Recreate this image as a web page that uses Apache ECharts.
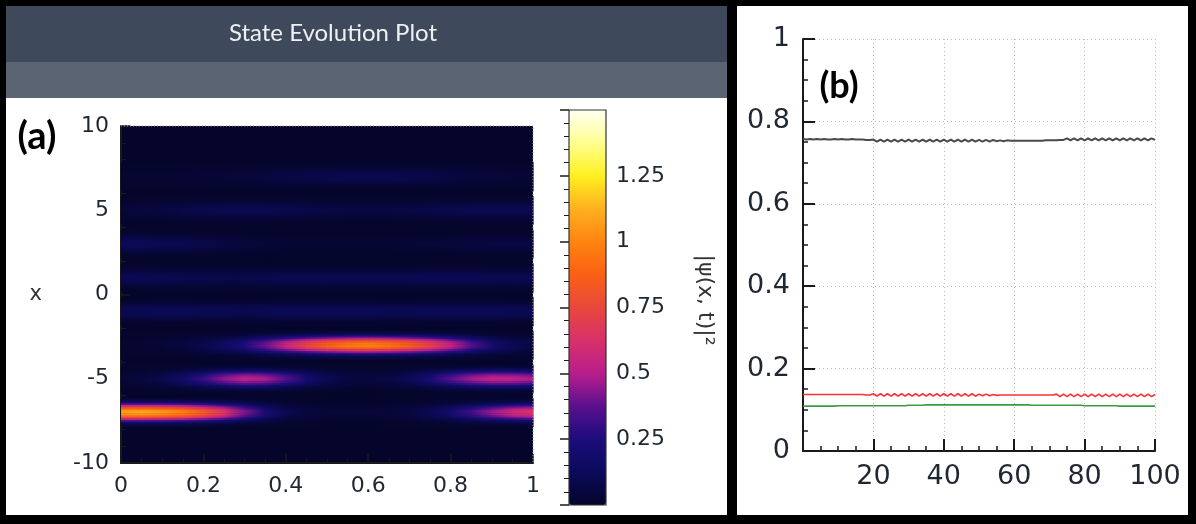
<!DOCTYPE html>
<html>
<head>
<meta charset="utf-8">
<title>State Evolution Plot</title>
<script src="https://cdn.jsdelivr.net/npm/echarts@6/dist/echarts.min.js"></script>
<style>
  html, body { margin: 0; padding: 0; background: #000; }
  #chart { width: 1196px; height: 524px; }
</style>
</head>
<body>
<div id="chart"></div>
<script>
// (a) heatmap: |psi(x,t)|^2 read at each lattice site, t step 0.05
const tGrid = [0, 0.05, 0.1, 0.15, 0.2, 0.25, 0.3, 0.35, 0.4, 0.45, 0.5, 0.55, 0.6, 0.65, 0.7, 0.75, 0.8, 0.85, 0.9, 0.95, 1];
const sites = [7, 5, 3, 1, -1, -3, -5, -7];
const probX7  = [0.02, 0.02, 0.02, 0.02, 0.03, 0.03, 0.04, 0.06, 0.07, 0.08, 0.09, 0.10, 0.10, 0.10, 0.09, 0.08, 0.06, 0.05, 0.04, 0.03, 0.03];
const probX5  = [0.03, 0.05, 0.06, 0.08, 0.09, 0.10, 0.10, 0.10, 0.09, 0.08, 0.07, 0.06, 0.06, 0.06, 0.07, 0.08, 0.09, 0.10, 0.10, 0.10, 0.10];
const probX3  = [0.12, 0.12, 0.11, 0.10, 0.08, 0.06, 0.04, 0.03, 0.02, 0.02, 0.02, 0.02, 0.02, 0.02, 0.03, 0.03, 0.04, 0.05, 0.06, 0.06, 0.06];
const probX1  = [0.10, 0.11, 0.10, 0.09, 0.09, 0.08, 0.08, 0.09, 0.10, 0.10, 0.10, 0.10, 0.10, 0.10, 0.10, 0.11, 0.11, 0.11, 0.10, 0.10, 0.10];
const probXm1 = [0.11, 0.11, 0.12, 0.12, 0.11, 0.11, 0.10, 0.11, 0.12, 0.12, 0.12, 0.12, 0.12, 0.11, 0.11, 0.12, 0.12, 0.12, 0.12, 0.11, 0.11];
const probXm3 = [0.02, 0.02, 0.03, 0.05, 0.09, 0.15, 0.25, 0.40, 0.57, 0.74, 0.88, 0.97, 1.00, 0.95, 0.86, 0.72, 0.55, 0.36, 0.20, 0.11, 0.07];
const probXm5 = [0.03, 0.05, 0.09, 0.17, 0.30, 0.44, 0.52, 0.48, 0.35, 0.20, 0.10, 0.06, 0.05, 0.07, 0.12, 0.22, 0.36, 0.47, 0.53, 0.52, 0.48];
const probXm7 = [1.08, 1.10, 1.06, 0.98, 0.84, 0.65, 0.42, 0.22, 0.10, 0.05, 0.03, 0.03, 0.03, 0.04, 0.06, 0.11, 0.19, 0.32, 0.46, 0.58, 0.65];
const siteRows = [probX7, probX5, probX3, probX1, probXm1, probXm3, probXm5, probXm7];

// (b) populations vs time
const timeSteps = [0, 1, 2, 3, 4, 5, 6, 7, 8, 9, 10, 11, 12, 13, 14, 15, 16, 17, 18, 19,
  20, 21, 22, 23, 24, 25, 26, 27, 28, 29, 30, 31, 32, 33, 34, 35, 36, 37, 38, 39,
  40, 41, 42, 43, 44, 45, 46, 47, 48, 49, 50, 51, 52, 53, 54, 55, 56, 57, 58, 59,
  60, 61, 62, 63, 64, 65, 66, 67, 68, 69, 70, 71, 72, 73, 74, 75, 76, 77, 78, 79,
  80, 81, 82, 83, 84, 85, 86, 87, 88, 89, 90, 91, 92, 93, 94, 95, 96, 97, 98, 99, 100];
const blackVals = [0.757, 0.756, 0.757, 0.756, 0.757, 0.756, 0.757, 0.756, 0.756, 0.757, 0.756, 0.757, 0.756, 0.756, 0.757, 0.756, 0.756, 0.756, 0.755, 0.755,
  0.756, 0.751, 0.756, 0.751, 0.756, 0.751, 0.756, 0.751, 0.756, 0.751,
  0.756, 0.751, 0.756, 0.751, 0.756, 0.751, 0.756, 0.751, 0.756, 0.751,
  0.756, 0.751, 0.756, 0.751, 0.756, 0.751, 0.756, 0.751, 0.756, 0.751,
  0.755, 0.751, 0.755, 0.751, 0.755, 0.752, 0.754, 0.752, 0.754, 0.753,
  0.753, 0.753, 0.753, 0.753, 0.753, 0.753, 0.753, 0.753, 0.753, 0.754, 0.754, 0.754, 0.754, 0.755, 0.755,
  0.759, 0.754, 0.759, 0.754, 0.759, 0.754, 0.759, 0.754, 0.759, 0.754,
  0.759, 0.754, 0.759, 0.754, 0.759, 0.754, 0.759, 0.754, 0.759, 0.754,
  0.759, 0.754, 0.759, 0.754, 0.759, 0.755];
const redVals = [0.137, 0.137, 0.137, 0.137, 0.137, 0.137, 0.137, 0.137, 0.137, 0.137, 0.137, 0.137, 0.137, 0.137, 0.137, 0.137, 0.137, 0.137, 0.136, 0.136,
  0.139, 0.133, 0.139, 0.133, 0.139, 0.133, 0.139, 0.133, 0.139, 0.133,
  0.139, 0.133, 0.139, 0.133, 0.139, 0.133, 0.139, 0.133, 0.139, 0.133,
  0.139, 0.133, 0.139, 0.133, 0.139, 0.133, 0.139, 0.133, 0.139, 0.133,
  0.138, 0.134, 0.138, 0.134, 0.137, 0.135,
  0.136, 0.136, 0.136, 0.136, 0.136, 0.136, 0.136, 0.136, 0.136, 0.136, 0.136, 0.136, 0.136, 0.136, 0.136, 0.136,
  0.138, 0.132, 0.138, 0.132, 0.138, 0.132, 0.138, 0.132,
  0.138, 0.132, 0.138, 0.132, 0.138, 0.132, 0.138, 0.132, 0.138, 0.132,
  0.138, 0.132, 0.138, 0.132, 0.138, 0.132, 0.138, 0.132, 0.138, 0.132, 0.137];
const greenVals = [0.109, 0.109, 0.109, 0.109, 0.109, 0.109, 0.109, 0.109, 0.109, 0.109,
  0.110, 0.110, 0.110, 0.110, 0.110, 0.110, 0.110, 0.110, 0.110, 0.110,
  0.110, 0.110, 0.110, 0.110, 0.110, 0.110, 0.110, 0.110, 0.110, 0.110,
  0.111, 0.111, 0.111, 0.111, 0.111, 0.112, 0.112, 0.112, 0.112, 0.112,
  0.112, 0.112, 0.112, 0.112, 0.112, 0.112, 0.112, 0.112, 0.112, 0.112,
  0.112, 0.112, 0.112, 0.112, 0.112, 0.112, 0.112, 0.112, 0.112, 0.112,
  0.112, 0.112, 0.112, 0.112, 0.112, 0.111, 0.111, 0.111, 0.111, 0.111,
  0.111, 0.111, 0.111, 0.111, 0.111, 0.111, 0.111, 0.111, 0.111, 0.111,
  0.110, 0.110, 0.110, 0.110, 0.110, 0.110, 0.110, 0.110, 0.110, 0.110,
  0.109, 0.109, 0.109, 0.109, 0.109, 0.109, 0.109, 0.109, 0.109, 0.109, 0.109];

// colour scale of the colorbar, 0 .. 1.5
const cmapColors = ['#05052c', '#0b0a5a', '#1c0c7c', '#5a108e', '#b81e8c', '#d8306a', '#e8483c',
  '#fa6014', '#ff8410', '#ffb020', '#fff020', '#ffff90', '#fffff4'];
const cmapMax = 1.5;

//vertical fall-off of each site band (style only)
const bandProfile = [0.04, 0.09, 0.18, 0.32, 0.5, 0.7, 0.86, 0.96, 1, 0.96, 0.86, 0.7, 0.5, 0.32, 0.18, 0.09, 0.04];
const bandHalf = 0.85;

function colorAt(v) {
  return echarts.color.lerp(Math.max(0, Math.min(1, v / cmapMax)), cmapColors);
}

const heatCells = [];
sites.forEach(function (s, r) {
  for (let i = 0; i < tGrid.length - 1; i++) {
    heatCells.push([tGrid[i], s, siteRows[r][i], tGrid[i + 1], siteRows[r][i + 1]]);
  }
});

function renderCell(params, api) {
  const t0 = api.value(0), site = api.value(1), v0 = api.value(2), t1 = api.value(3), v1 = api.value(4);
  const p0 = api.coord([t0, site + bandHalf]);
  const p1 = api.coord([t1, site - bandHalf]);
  const w = p1[0] - p0[0];
  const h = (p1[1] - p0[1]) / bandProfile.length;
  return {
    type: 'group',
    children: bandProfile.map(function (f, k) {
      return {
        type: 'rect',
        shape: { x: p0[0], y: p0[1] + k * h, width: w + 0.6, height: h + 0.4 },
        style: {
          fill: new echarts.graphic.LinearGradient(0, 0, 1, 0, [
            { offset: 0, color: colorAt(v0 * f) },
            { offset: 1, color: colorAt(v1 * f) }
          ])
        }
      };
    })
  };
}

const labelColor = '#1f2733';
const axisDark = '#1a1a1a';

const chart = echarts.init(document.getElementById('chart'), null, { renderer: 'canvas' });

chart.setOption({
  backgroundColor: '#000',
  animation: false,
  grid: [
    { left: 121, top: 126, width: 412, height: 337, show: true, backgroundColor: cmapColors[0], borderWidth: 0, outerBoundsMode: 'none' },
    { left: 803, top: 39, width: 352, height: 412, outerBoundsMode: 'none' },
    { left: 569, top: 110, width: 37, height: 395, outerBoundsMode: 'none' }
  ],
  xAxis: [
    {
      gridIndex: 0, type: 'value', min: 0, max: 1, interval: 0.2,
      axisLine: { onZero: false, lineStyle: { color: axisDark, width: 2 } },
      axisTick: { inside: true, length: 9, lineStyle: { color: axisDark, width: 1.5 } },
      minorTick: { show: true, splitNumber: 4, length: 4, lineStyle: { color: axisDark, width: 1 } },
      splitLine: { show: false },
      axisLabel: { fontFamily: 'DejaVu Sans', fontSize: 22, color: labelColor, margin: 12 }
    },
    {
      gridIndex: 1, type: 'value', min: 0, max: 100, interval: 20,
      axisLine: { lineStyle: { color: axisDark, width: 2 } },
      axisTick: { inside: true, length: 12, lineStyle: { color: axisDark, width: 2 } },
      minorTick: { show: true, splitNumber: 4, length: 5, lineStyle: { color: axisDark, width: 1.5 } },
      splitLine: { show: true, lineStyle: { color: '#bdbdbd', width: 1, type: [1, 3] } },
      axisLabel: {
        fontFamily: 'DejaVu Sans', fontSize: 27, color: labelColor, margin: 12,
        formatter: function (v) { return v === 0 ? '' : String(v); }
      }
    },
    { gridIndex: 2, type: 'value', show: false, min: 0, max: 1 }
  ],
  yAxis: [
    {
      gridIndex: 0, type: 'value', min: -10, max: 10, interval: 5,
      name: 'x', nameLocation: 'middle', nameRotate: 0, nameGap: 79,
      nameTextStyle: { fontFamily: 'DejaVu Sans', fontSize: 21, color: '#333' },
      axisLine: { onZero: false, lineStyle: { color: axisDark, width: 2 } },
      axisTick: { inside: true, length: 9, lineStyle: { color: axisDark, width: 1.5 } },
      minorTick: { show: true, splitNumber: 5, length: 5, lineStyle: { color: axisDark, width: 1 } },
      splitLine: { show: false },
      axisLabel: { fontFamily: 'DejaVu Sans', fontSize: 22, color: labelColor, margin: 12 }
    },
    {
      gridIndex: 1, type: 'value', min: 0, max: 1, interval: 0.2,
      axisLine: { lineStyle: { color: axisDark, width: 2 } },
      axisTick: { inside: true, length: 12, lineStyle: { color: axisDark, width: 2 } },
      minorTick: { show: true, splitNumber: 4, length: 5, lineStyle: { color: axisDark, width: 1.5 } },
      splitLine: { show: true, lineStyle: { color: '#bdbdbd', width: 1, type: [1, 3] } },
      axisLabel: { fontFamily: 'DejaVu Sans', fontSize: 27, color: labelColor, margin: 13 }
    },
    {
      gridIndex: 2, type: 'value', position: 'right', min: 0, max: cmapMax, interval: 0.25,
      axisLine: { show: false },
      axisTick: { inside: true, length: 9, lineStyle: { color: axisDark, width: 1.5 } },
      minorTick: { show: true, splitNumber: 5, length: 5, lineStyle: { color: axisDark, width: 1 } },
      splitLine: { show: false },
      axisLabel: {
        fontFamily: 'DejaVu Sans', fontSize: 22, color: labelColor, margin: 10,
        formatter: function (v) { return (v === 0 || v === cmapMax) ? '' : String(v); }
      }
    }
  ],
  visualMap: {
    type: 'continuous', min: 0, max: cmapMax, dimension: 2, seriesIndex: 0,
    left: 569, top: 110, itemWidth: 37, itemHeight: 395, padding: 0,
    calculable: false, inRange: { color: cmapColors }, z: 1
  },
  series: [
    {
      type: 'custom', xAxisIndex: 0, yAxisIndex: 0, silent: true,
      encode: { x: 0, y: 1 },
      renderItem: renderCell,
      data: heatCells,
      z: 1
    },
    {
      type: 'line', xAxisIndex: 1, yAxisIndex: 1, showSymbol: false, silent: true,
      lineStyle: { color: '#4a4a4a', width: 2 },
      data: timeSteps.map(function (t, i) { return [t, blackVals[i]]; })
    },
    {
      type: 'line', xAxisIndex: 1, yAxisIndex: 1, showSymbol: false, silent: true,
      lineStyle: { color: '#ff3030', width: 1.6 },
      data: timeSteps.map(function (t, i) { return [t, redVals[i]]; })
    },
    {
      type: 'line', xAxisIndex: 1, yAxisIndex: 1, showSymbol: false, silent: true,
      lineStyle: { color: '#3f9a3f', width: 1.6 },
      data: timeSteps.map(function (t, i) { return [t, greenVals[i]]; })
    }
  ],
  graphic: {
    elements: [
      { type: 'rect', z: -10, shape: { x: 6, y: 6, width: 721, height: 509 }, style: { fill: '#fff' } },
      { type: 'rect', z: -9, shape: { x: 6, y: 6, width: 721, height: 56 }, style: { fill: '#3e4a5b' } },
      { type: 'rect', z: -9, shape: { x: 6, y: 62, width: 721, height: 36 }, style: { fill: '#5b6473' } },
      { type: 'rect', z: -10, shape: { x: 737, y: 6, width: 451, height: 509 }, style: { fill: '#fff' } },
      {
        type: 'text', z: 50, x: 333, y: 33,
        style: { text: 'State Evolution Plot', fill: '#eef0f3', font: '24px Lato', align: 'center', verticalAlign: 'middle' }
      },
      {
        type: 'text', z: 50, x: 37, y: 137,
        style: { text: '(a)', fill: '#000', font: 'bold 38px Lato', align: 'center', verticalAlign: 'middle' }
      },
      {
        type: 'text', z: 50, x: 839, y: 86,
        style: { text: '(b)', fill: '#000', font: 'bold 36px Lato', align: 'center', verticalAlign: 'middle' }
      },
      {
        type: 'text', z: 50, x: 705, y: 300, rotation: -Math.PI / 2,
        style: { text: '|ψ(x, t)|²', fill: '#333', font: '22px "DejaVu Sans"', align: 'center', verticalAlign: 'middle' }
      },
      {
        type: 'polyline', z: 50,
        shape: { points: [[121, 126], [533, 126], [533, 463]] },
        style: { stroke: '#9a9a9a', lineWidth: 1, lineDash: [1, 2], fill: null }
      },
      {
        type: 'rect', z: 50, shape: { x: 569, y: 110, width: 37, height: 395 },
        style: { fill: null, stroke: '#333', lineWidth: 1.2 }
      }
    ]
  }
});
</script>
</body>
</html>
